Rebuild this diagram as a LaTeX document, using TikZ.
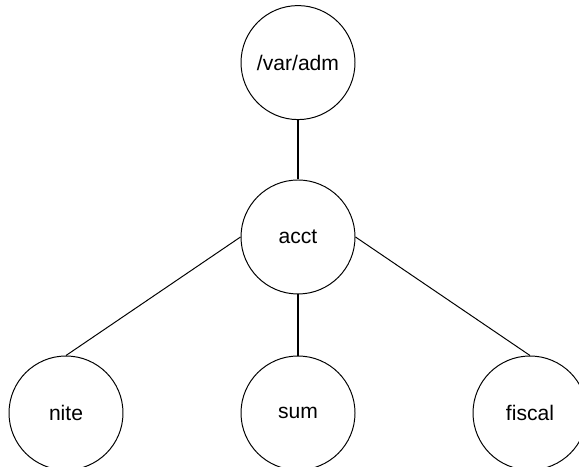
\documentclass[tikz,border=0pt]{standalone}
\usepackage{fontspec}
\setmainfont{Liberation Sans}
\begin{document}
\begin{tikzpicture}[dir/.style={draw, shape=circle, minimum size=2.85cm, inner sep=0pt, line width=0.7pt, font=\fontsize{15}{18}\selectfont}]
                \useasboundingbox (0, 0) rectangle (14.475, 11.675);

                \node (adm) at (7.45, 10.11) [dir] {/var/adm};
                \node (acct) at (7.45, 5.75) [dir] {acct};
                \node (nite) at (1.65, 1.35) [dir] {nite};
                \node (sum) at (7.45, 1.35) [dir] {sum};
                \node (fiscal) at (13.25, 1.35) [dir] {fiscal};

                \draw[line width=0.8pt] (adm) -- (acct);
                \draw[line width=0.7pt] (acct.west) -- (nite.north);
                \draw[line width=0.8pt] (acct) -- (sum);
                \draw[line width=0.7pt] (acct.east) -- (fiscal.north);
            \end{tikzpicture}
\end{document}
